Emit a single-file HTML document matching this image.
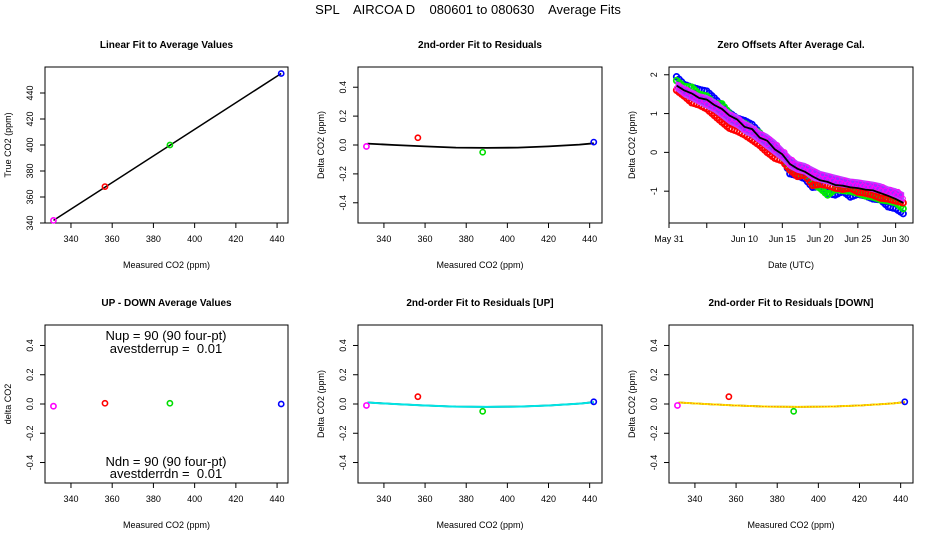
<!DOCTYPE html>
<html><head><meta charset="utf-8"><style>
body{margin:0;background:#fff}
svg{display:block;font-family:"Liberation Sans",Arial,sans-serif}
</style></head><body>
<svg id="s" width="936" height="540" viewBox="0 0 936 540" xmlns="http://www.w3.org/2000/svg">
<rect width="936" height="540" fill="#fff"/>
<text x="468" y="14" font-size="13" text-anchor="middle" style="white-space:pre" xml:space="preserve">SPL    AIRCOA D    080601 to 080630    Average Fits</text>
</svg>
<script>
// ---- data ----
const stdX = [331.5, 356.5, 388, 442];
const stdTrue = [342, 368, 400, 455];
const stdColors = ['#ff00ff','#ff0000','#00dd00','#0000ff'];
const resid = [-0.01, 0.05, -0.05, 0.02];
const residUp = [-0.01, 0.05, -0.05, 0.015];
const residDn = [-0.01, 0.05, -0.05, 0.015];
const updn = [-0.015, 0.005, 0.005, 0.0];
const fitX = [332, 345, 360, 375, 390, 405, 420, 435, 442];
const fitY = [0.01, 0.0, -0.01, -0.018, -0.02, -0.018, -0.01, 0.003, 0.012];
const days = [1,2,3,4,5,6,7,8,9,10,11,12,13,14,15,16,17,18,19,20,21,22,23,24,25,26,27,28,29,30,31];
const blackLine = [1.72,1.6,1.52,1.4,1.36,1.22,1.12,0.95,0.85,0.66,0.6,0.38,0.3,0.08,-0.05,-0.3,-0.42,-0.5,-0.62,-0.72,-0.76,-0.84,-0.86,-0.9,-0.92,-0.96,-0.98,-1.05,-1.12,-1.2,-1.3];
const blueVals = [1.95,1.75,1.68,1.62,1.58,1.4,1.2,1.02,0.88,0.82,0.72,0.5,0.3,0.12,-0.12,-0.55,-0.6,-0.68,-0.9,-0.88,-1.05,-1.1,-1.0,-1.15,-1.08,-1.12,-1.2,-1.22,-1.4,-1.45,-1.58];
const greenVals = [1.85,1.7,1.68,1.5,1.45,1.25,1.25,1.0,0.82,0.75,0.62,0.5,0.3,0.1,-0.12,-0.45,-0.52,-0.6,-0.82,-0.92,-1.1,-0.95,-0.98,-1.0,-1.05,-1.12,-1.15,-1.22,-1.25,-1.3,-1.45];
const redVals = [1.6,1.45,1.28,1.22,1.12,0.95,0.78,0.62,0.55,0.45,0.32,0.18,0.0,-0.15,-0.22,-0.45,-0.62,-0.58,-0.85,-0.82,-0.85,-0.92,-0.95,-0.92,-1.02,-1.05,-1.1,-1.18,-1.2,-1.25,-1.3];
const purpleHi = [1.8,1.7,1.6,1.5,1.45,1.35,1.2,1.05,0.95,0.8,0.7,0.55,0.45,0.3,0.1,-0.1,-0.25,-0.3,-0.4,-0.5,-0.55,-0.6,-0.65,-0.7,-0.72,-0.75,-0.78,-0.82,-0.9,-0.95,-1.05];
const purpleLo = [1.6,1.45,1.35,1.25,1.15,1.05,0.9,0.75,0.65,0.5,0.4,0.25,0.1,-0.05,-0.2,-0.4,-0.5,-0.55,-0.7,-0.75,-0.8,-0.85,-0.88,-0.9,-0.92,-0.95,-1.0,-1.05,-1.1,-1.15,-1.25];
const ppmTicks = [340,360,380,400,420,440];
const trueTicks = [340,360,380,400,420,440];
const dTicks = [-0.4,-0.2,0.0,0.2,0.4];
const zTicks = [-1,0,1,2];
const dateTickDays = [0,5,10,15,20,25,30];
const dateTickLabels = ['May 31','','Jun 10','Jun 15','Jun 20','Jun 25','Jun 30'];

// ---- helpers ----
const S = document.getElementById('s');
const NS = 'http://www.w3.org/2000/svg';
function mk(tag, a, parent){const e=document.createElementNS(NS,tag);for(const k in a)e.setAttribute(k,a[k]);(parent||S).appendChild(e);return e;}
function lin(d0,d1,r0,r1){return v=>r0+(v-d0)*(r1-r0)/(d1-d0);}

function panel(id, box, xd, yd, title, xlab, ylab, xt, xtl, yt, ytl){
  const g = mk('g',{});
  
  
  const [L,T,R,B] = box;
  const sx = lin(xd[0],xd[1],L,R), sy = lin(yd[0],yd[1],B,T);
  const fr = mk('rect',{x:L,y:T,width:R-L,height:B-T,fill:'none',stroke:'#000','stroke-width':1},g);
  
  
  const tt = mk('text',{x:(L+R)/2,y:T-19,'font-size':10,'font-weight':'bold','text-anchor':'middle'},g);
  tt.textContent = title;
  
  
  const xl = mk('text',{x:(L+R)/2,y:B+45,'font-size':9,'text-anchor':'middle'},g);
  xl.textContent = xlab;
  
  
  const yl = mk('text',{x:0,y:0,'font-size':9,'text-anchor':'middle',transform:`translate(${L-34},${(T+B)/2}) rotate(-90)`},g);
  yl.textContent = ylab;
  
  
  const xa = mk('g',{},g);
  
  
  xt.forEach((v,i)=>{const x=sx(v);mk('line',{x1:x,x2:x,y1:B,y2:B+5,stroke:'#000'},xa);
    const t=mk('text',{x:x,y:B+19,'font-size':9,'text-anchor':'middle'},xa);t.textContent=xtl[i];});
  const ya = mk('g',{},g);
  
  
  yt.forEach((v,i)=>{const y=sy(v);mk('line',{x1:L,x2:L-5,y1:y,y2:y,stroke:'#000'},ya);
    const t=mk('text',{x:0,y:0,'font-size':9,'text-anchor':'middle',transform:`translate(${L-12},${y}) rotate(-90)`},ya);t.textContent=ytl[i];});
  return {g,sx,sy};
}
function pts(p, xs, ys, name){
  xs.forEach((x,i)=>{const c=mk('circle',{cx:p.sx(x),cy:p.sy(ys[i]),r:2.6,fill:'none',stroke:stdColors[i],'stroke-width':1.6},p.g);
    
    });
}
function poly(p, xs, ys, col, w, dash, name){
  const d = xs.map((x,i)=>(i?'L':'M')+p.sx(x).toFixed(1)+','+p.sy(ys[i]).toFixed(1)).join('');
  const e = mk('path',{d,fill:'none',stroke:col,'stroke-width':w},p.g);
  if(dash) e.setAttribute('stroke-dasharray',dash);
  
  
  return e;
}
const C=[[45,67,288,223],[358,67,602,223],[669,67,913,223]];
const R2=[[45,325,288,483],[358,325,602,483],[669,325,913,483]];
const xdA=[327.4,445.3];
const ydD=[-0.54,0.54];
const pl=ppmTicks.map(String);
const dl=dTicks.map(v=>v.toFixed(1));

// panel 1
const p1 = panel('linear-fit-panel',C[0],xdA,[340,460],'Linear Fit to Average Values','Measured CO2 (ppm)','True CO2 (ppm)',ppmTicks,pl,trueTicks,trueTicks.map(String));
poly(p1,[stdX[0],stdX[3]],[stdTrue[0],stdTrue[3]],'#000',1.5,null,'linear-fit-line');
pts(p1,stdX,stdTrue,'linear');

// panel 2
const p2 = panel('residual-fit-panel',C[1],[327.4,446],ydD,'2nd-order Fit to Residuals','Measured CO2 (ppm)','Delta CO2 (ppm)',ppmTicks,pl,dTicks,dl);
poly(p2,fitX,fitY,'#000',1.8,null,'residual-fit-curve');
pts(p2,stdX,resid,'residual');

// panel 3
const p3 = panel('zero-offsets-panel',C[2],[0,32.3],[-1.82,2.2],'Zero Offsets After Average Cal.','Date (UTC)','Delta CO2 (ppm)',dateTickDays,dateTickLabels,zTicks,zTicks.map(String));
function series(vals,col,name){
  const g=mk('g',{},p3.g);
  
  
  vals.forEach((v,i)=>{ for(let k=0;k<3;k++){ const d=days[i]+k/3; const nv = i<vals.length-1? v+(vals[i+1]-v)*k/3 : v;
    if(d>31) continue;
    mk('circle',{cx:p3.sx(d),cy:p3.sy(nv),r:2.8,fill:'none',stroke:col,'stroke-width':1.8},g);} });
}
series(blueVals,'#0000ff','blue-series');
series(greenVals,'#00ee00','green-series');
series(redVals,'#ff0000','red-series');
(function(){
  const g=mk('g',{},p3.g);
  
  
  const top=days.map((d,i)=>p3.sx(d).toFixed(1)+','+p3.sy(purpleHi[i]).toFixed(1));
  const bot=days.map((d,i)=>p3.sx(d).toFixed(1)+','+p3.sy(purpleLo[i]).toFixed(1)).reverse();
  mk('polygon',{points:top.concat(bot).join(' '),fill:'#9a30ff',stroke:'#c040ff','stroke-width':2},g);
  days.forEach((d,i)=>{ for(let k=0;k<3;k++){ if(d+k/3>31) continue; mk('circle',{cx:p3.sx(d+k/3),cy:p3.sy(purpleLo[i]+(purpleHi[i]-purpleLo[i])*(k%2?0.7:0.3)),r:2.2,fill:'none',stroke:'#ff00ff','stroke-width':1},g);} });
})();
poly(p3,days,blackLine,'#000',1.8,null,'average-offset-line');

// panel 4
const p4 = panel('up-down-panel',R2[0],xdA,ydD,'UP - DOWN Average Values','Measured CO2 (ppm)','delta CO2',ppmTicks,pl,dTicks,dl);
pts(p4,stdX,updn,'updown');
[['Nup = 90 (90 four-pt)',340,'nup-label'],['avestderrup =  0.01',353,'avestderrup-label'],['Ndn = 90 (90 four-pt)',466,'ndn-label'],['avestderrdn =  0.01',478,'avestderrdn-label']].forEach(a=>{
  const t=mk('text',{x:166,y:a[1],'font-size':13,'text-anchor':'middle',style:'white-space:pre'},p4.g);t.textContent=a[0];
  
  });

// panel 5
const p5 = panel('residual-up-panel',R2[1],[327.4,446],ydD,'2nd-order Fit to Residuals [UP]','Measured CO2 (ppm)','Delta CO2 (ppm)',ppmTicks,pl,dTicks,dl);
poly(p5,fitX,fitY,'#000',1.8,null,'residual-up-black-curve');
poly(p5,fitX,fitY,'#00e5e5',2,null,'residual-up-fit-curve');
pts(p5,stdX,residUp,'residual-up');

// panel 6
const p6 = panel('residual-down-panel',R2[2],[327.4,446],ydD,'2nd-order Fit to Residuals [DOWN]','Measured CO2 (ppm)','Delta CO2 (ppm)',ppmTicks,pl,dTicks,dl);
poly(p6,fitX,fitY,'#000',1.8,null,'residual-down-black-curve');
poly(p6,fitX,fitY,'#ffee00',2,null,'residual-down-fit-curve');
poly(p6,fitX,fitY,'#ff4000',1,'1,2','residual-down-dotted-curve');
pts(p6,stdX,residDn,'residual-down');
</script>
</body></html>
